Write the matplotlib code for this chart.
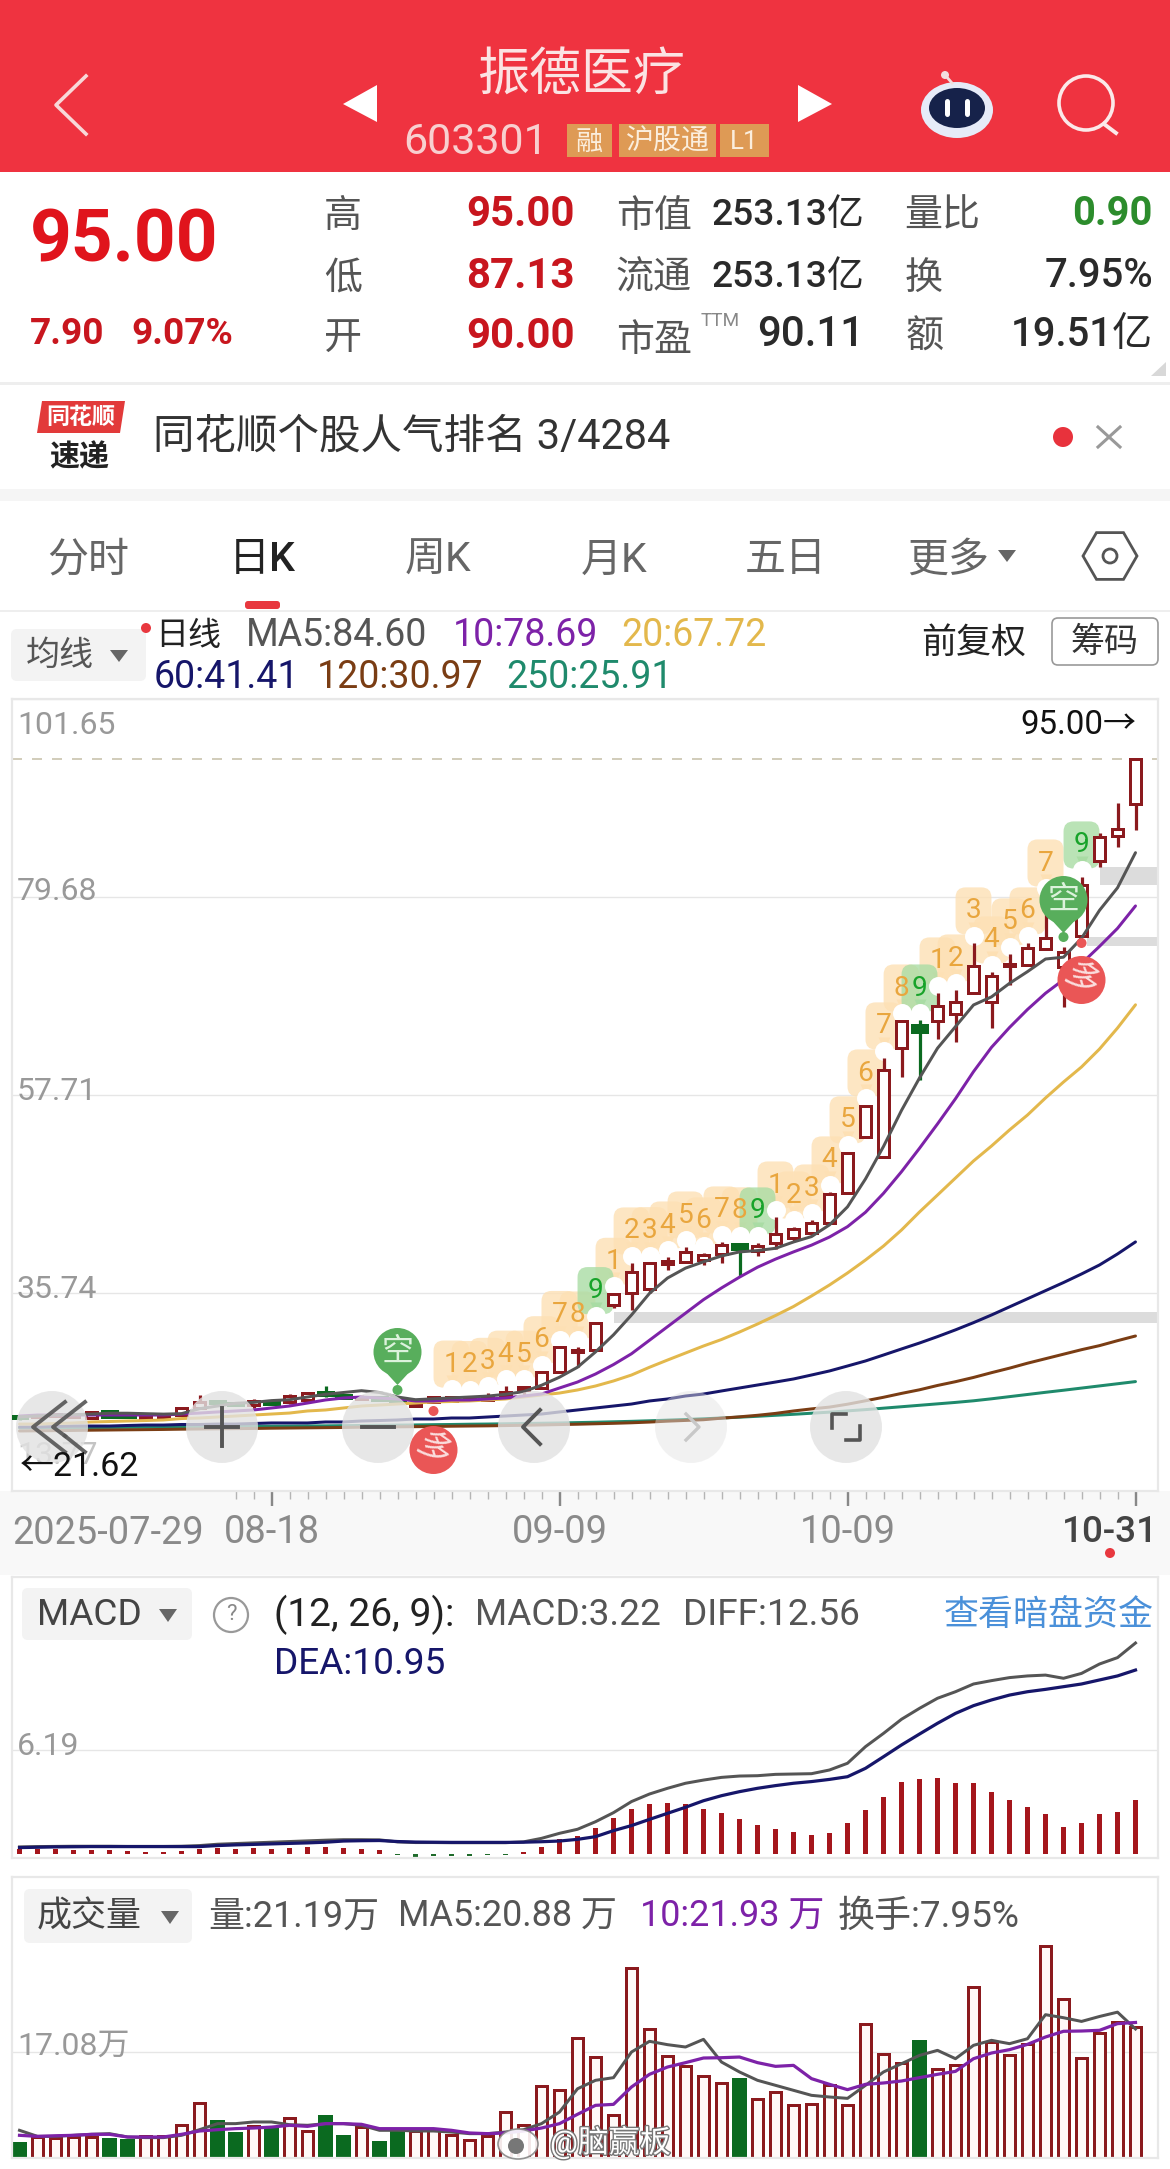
#!/usr/bin/env python3
# K-line screen of 603301: header, quote block, price / MACD / volume panes
import matplotlib
matplotlib.use('Agg')
import matplotlib.pyplot as plt
from matplotlib.patches import Rectangle, FancyBboxPatch, Circle, Polygon, RegularPolygon, Ellipse
from matplotlib.transforms import offset_copy
import matplotlib.patheffects as pe

plt.rcParams['font.family'] = ['Roboto', 'Noto Sans CJK SC', 'DejaVu Sans']

W, H = 1170, 2169

# ── data ──
opens = [22.1, 21.95, 22.1, 22.0, 21.9, 22.6, 22.4, 21.9, 21.9, 22.2, 22.98, 23.8, 23.55, 23.3, 23.75, 23.65,
         23.87, 24.7, 24.45, 24.0, 24.2, 23.9, 23.2, 23.65, 23.8, 23.85, 23.9, 24.4, 24.98, 25.2, 26.97, 29.2,
         29.42, 34.41, 35.74, 36.18, 39.0, 39.18, 39.4, 40.07, 41.18, 40.4, 41.29, 41.84, 42.4, 43.51, 46.84,
         53.05, 50.83, 62.93, 65.48, 65.92, 66.7, 69.03, 68.03, 72.0, 72.13, 73.91, 71.91, 75.35, 83.68, 86.45, 90.0]
closes = [21.85, 22.2, 22.3, 22.25, 22.55, 22.0, 22.0, 22.2, 22.1, 22.98, 23.65, 23.5, 23.3, 23.75, 23.45, 24.31,
          24.64, 24.4, 24.1, 24.2, 23.9, 23.6, 23.45, 24.2, 24.2, 24.2, 24.35, 24.75, 25.3, 26.97, 29.75, 29.42,
          32.41, 35.63, 38.07, 39.07, 39.3, 40.29, 39.96, 41.07, 40.62, 40.95, 42.29, 42.84, 43.51, 46.72, 51.27,
          56.49, 60.48, 65.92, 64.7, 67.58, 68.03, 72.02, 70.91, 72.25, 74.02, 75.13, 73.58, 81.01, 86.34, 87.23, 95.0]
highs = [22.15, 22.3, 22.4, 22.35, 22.6, 22.8, 22.5, 22.3, 22.3, 23.0, 24.4, 23.9, 23.7, 24.0, 23.8, 24.5,
         24.7, 25.4, 24.5, 24.4, 24.3, 24.0, 23.5, 24.3, 24.3, 24.25, 24.6, 25.4, 25.4, 27.0, 29.8, 29.75,
         32.45, 35.7, 39.07, 39.1, 39.73, 40.84, 40.18, 41.4, 41.3, 41.29, 44.17, 43.06, 43.84, 46.95, 51.4,
         56.6, 61.82, 66.03, 66.03, 69.03, 69.36, 74.58, 71.36, 73.36, 74.58, 79.9, 74.13, 81.9, 86.78, 90.11, 95.0]
lows = [21.62, 21.85, 22.0, 21.9, 21.8, 21.9, 21.95, 21.7, 21.75, 22.1, 22.9, 23.2, 23.2, 23.0, 23.4, 23.4,
        23.8, 24.2, 24.05, 23.9, 23.8, 23.5, 23.1, 23.5, 23.7, 23.8, 23.8, 24.0, 24.4, 25.2, 26.9, 27.53,
        29.4, 34.08, 33.85, 35.74, 38.29, 39.07, 38.85, 39.07, 37.63, 39.85, 40.62, 41.51, 42.07, 43.4, 46.7,
        53.0, 50.8, 59.71, 59.37, 63.92, 63.59, 69.0, 65.14, 69.92, 72.1, 73.9, 67.47, 75.3, 83.0, 85.23, 87.13]

ma5 = [22.0, 22.1, 22.2, 22.25, 22.3, 22.4, 22.4, 22.35, 22.3, 22.35, 22.9, 23.2, 23.5, 23.6, 23.8, 23.9, 24.2,
       24.5, 24.7, 24.9, 24.7, 24.2, 23.9, 24.0, 24.1, 24.2, 24.3, 24.5, 24.8, 25.5, 26.4, 27.5, 29.2, 31.1, 33.3,
       35.7, 37.4, 38.5, 39.2, 39.85, 40.3, 40.45, 40.7, 41.4, 42.0, 43.3, 45.3, 48.4, 52.0, 56.0, 59.6, 62.9, 65.3,
       67.7, 68.6, 70.1, 71.4, 72.8, 73.0, 75.1, 78.2, 80.7, 84.6]
ma10 = [22.09, 22.2, 22.2, 22.2, 22.2, 22.2, 22.2, 22.2, 22.2, 22.31, 22.42, 22.54, 22.65, 22.76, 22.98, 23.2,
        23.53, 23.87, 24.09, 24.2, 24.09, 23.98, 23.76, 23.76, 23.87, 23.87, 23.98, 24.09, 24.31, 24.53, 25.2, 25.86,
        26.75, 27.8, 29.0, 30.5, 32.0, 33.5, 35.0, 36.3, 37.5, 38.6, 39.5, 40.3, 41.05, 41.95, 43.1, 44.7,
        46.8, 49.2, 51.8, 54.5, 57.3, 60.3, 63.0, 65.2, 67.2, 69.0, 70.5, 72.3, 74.2, 76.2, 78.69]
ma20 = [21.2, 21.2, 21.26, 21.32, 21.43, 21.48, 21.54, 21.59, 21.65, 21.81, 21.87, 21.98, 22.09, 22.2, 22.31, 22.42,
        22.65, 22.76, 22.98, 23.2, 23.31, 23.42, 23.53, 23.65, 23.7, 23.76, 23.87, 23.98, 24.2, 24.42, 24.64, 24.98,
        25.42, 25.98, 26.64, 27.5, 28.3, 29.08, 29.86, 30.58, 31.41, 32.3, 33.24, 34.24, 35.41, 36.63, 37.96, 39.4,
        40.95, 42.73, 44.73, 46.61, 48.5, 50.39, 52.05, 53.83, 55.49, 57.38, 59.15, 60.82, 62.81, 65.14, 67.72]
ma60 = [20.87, 20.87, 20.93, 20.98, 20.98, 20.98, 21.04, 21.09, 21.09, 21.15, 21.15, 21.2, 21.2, 21.26, 21.32, 21.32,
        21.32, 21.43, 21.43, 21.54, 21.59, 21.65, 21.76, 21.76, 21.87, 21.87, 21.98, 22.09, 22.2, 22.31, 22.54, 22.76,
        22.98, 23.2, 23.42, 23.76, 23.98, 24.31, 24.53, 24.87, 25.2, 25.53, 25.86, 26.2, 26.64, 27.09, 27.64, 28.2,
        28.86, 29.53, 30.19, 30.9, 31.65, 32.45, 33.3, 34.2, 35.1, 36.0, 36.9, 37.85, 38.85, 40.07, 41.41]
ma120 = [20.43, 20.45, 20.47, 20.49, 20.52, 20.54, 20.56, 20.58, 20.6, 20.63, 20.65, 20.67, 20.69, 20.71, 20.74, 20.76,
         20.78, 20.8, 20.82, 20.85, 20.87, 20.89, 20.91, 20.93, 20.96, 20.98, 21.0, 21.03, 21.06, 21.1, 21.14, 21.18,
         21.23, 21.28, 21.34, 21.42, 21.52, 21.6, 21.68, 21.85, 22.0, 22.17, 22.38, 22.65, 22.88, 23.08, 23.4, 23.78,
         24.17, 24.6, 25.0, 25.48, 25.9, 26.37, 26.9, 27.4, 27.95, 28.45, 28.95, 29.45, 29.9, 30.45, 30.97]
ma250 = [20.76, 20.77, 20.79, 20.8, 20.82, 20.83, 20.84, 20.86, 20.87, 20.89, 20.9, 20.92, 20.93, 20.94, 20.96, 20.97,
         20.99, 21.0, 21.02, 21.04, 21.06, 21.08, 21.1, 21.13, 21.15, 21.18, 21.2, 21.23, 21.26, 21.29, 21.32, 21.36,
         21.4, 21.45, 21.5, 21.56, 21.63, 21.7, 21.78, 21.87, 21.96, 22.06, 22.17, 22.28, 22.4, 22.52, 22.66, 22.8,
         22.96, 23.12, 23.28, 23.44, 23.6, 23.78, 24.0, 24.24, 24.48, 24.72, 24.95, 25.19, 25.43, 25.67, 25.91]

price_grid = [13.77, 35.74, 57.71, 79.68, 101.65]
chip_low = [32.41, 74.25, 81.0]
chip_high = [33.63, 75.25, 83.0]
chip_start = [33, 59.3, 60]
last_price = 95.0

td_index = [24, 25, 26, 27, 28, 29, 30, 31, 32, 33, 34, 35, 36, 37, 38, 39, 40, 41, 42, 43, 44, 45, 46, 47, 48, 49, 50,
            51, 52, 53, 54, 55, 56, 57, 59]
td_label = [1, 2, 3, 4, 5, 6, 7, 8, 9, 1, 2, 3, 4, 5, 6, 7, 8, 9, 1, 2, 3, 4, 5, 6, 7, 8, 9, 1, 2, 3, 4, 5, 6, 7, 9]

macd = [.28, .28, .28, .24, .24, .24, .18, .12, .12, .18, .3, .36, .3, .34, .3, .36, .44, .44, .36, .3, .22, -.08,
        -.16, -.1, -.1, -.1, -.06, -.04, .12, .43, .87, 1.07, 1.53, 2.12, 2.66, 2.96, 3.02, 2.96, 2.68, 2.46, 2.08,
        1.73, 1.51, 1.31, 1.13, 1.27, 1.83, 2.62, 3.41, 4.31, 4.44, 4.5, 4.25, 4.2, 3.71, 3.21, 2.82, 2.38, 1.63,
        1.83, 2.38, 2.52, 3.22]
diff = [.42, .44, .45, .46, .46, .46, .45, .45, .45, .46, .5, .58, .62, .66, .7, .74, .78, .82, .85, .85, .84, .72,
        .68, .68, .67, .67, .67, .67, .72, .93, 1.23, 1.47, 1.92, 2.46, 3.12, 3.57, 3.91, 4.21, 4.4, 4.56, 4.64, 4.66,
        4.74, 4.76, 4.78, 5.0, 5.4, 6.39, 7.18, 8.02, 8.67, 9.27, 9.66, 10.12, 10.32, 10.5, 10.6, 10.65, 10.46, 10.75,
        11.31, 11.69, 12.56]
dea = [.38, .4, .42, .43, .44, .44, .44, .44, .44, .44, .44, .5, .54, .57, .6, .63, .66, .7, .77, .79, .8, .74, .71,
       .7, .69, .69, .69, .69, .7, .73, .77, .87, 1.03, 1.39, 1.69, 2.06, 2.42, 2.78, 3.17, 3.47, 3.71, 3.91, 4.07,
       4.21, 4.31, 4.44, 4.6, 5.1, 5.79, 6.49, 7.14, 7.78, 8.37, 8.83, 9.17, 9.46, 9.66, 9.8, 9.96, 10.12, 10.36,
       10.6, 10.95]

volume = [2.59, 3.4, 3.24, 3.4, 3.4, 3.2, 3.0, 3.5, 3.5, 5.29, 8.95, 6.1, 4.2, 5.12, 5.0, 6.47, 4.37, 6.9, 3.67, 5.0,
          2.7, 4.48, 4.37, 4.75, 3.67, 2.97, 3.5, 7.44, 5.29, 11.6, 11.06, 19.42, 16.34, 6.9, 30.8, 20.93, 16.5, 14.89,
          13.2, 12.19, 13.0, 9.55, 10.68, 8.63, 8.79, 11.76, 8.63, 21.68, 16.88, 15.43, 19.15, 14.46, 15.1, 27.67,
          18.77, 16.6, 18.5, 34.36, 25.7, 16.18, 20.2, 22.0, 21.19]
vol_ma5 = [4.48, 3.5, 3.5, 3.67, 3.83, 3.94, 3.4, 3.3, 3.3, 3.67, 4.58, 5.56, 5.56, 5.83, 5.83, 5.39, 5.29, 5.56, 5.56,
           5.29, 4.48, 4.48, 4.37, 4.37, 4.2, 3.94, 3.94, 4.2, 4.58, 5.56, 7.44, 11.2, 12.57, 13.0, 17.15, 18.88, 18.34,
           17.96, 19.2, 15.53, 13.92, 12.57, 11.76, 10.95, 10.14, 9.87, 9.65, 11.76, 13.92, 15.26, 16.6, 17.42, 16.07,
           18.23, 19.04, 18.5, 19.3, 23.19, 22.7, 22.1, 22.9, 23.6, 20.88]
vol_ma10 = [3.67, 3.5, 3.6, 3.67, 3.83, 3.83, 3.4, 3.4, 3.4, 3.83, 4.37, 4.58, 4.75, 4.85, 5.0, 5.29, 5.12, 5.56, 5.56,
            5.45, 4.75, 4.75, 4.75, 4.75, 4.48, 4.05, 3.94, 4.05, 4.37, 4.85, 5.56, 7.07, 8.52, 8.68, 11.49, 13.54, 14.72,
            15.43, 16.18, 16.23, 16.34, 15.43, 14.83, 14.99, 12.84, 11.92, 11.06, 11.92, 12.14, 12.46, 13.0, 13.54, 14.02,
            16.07, 16.99, 17.53, 18.39, 19.58, 20.5, 20.55, 20.66, 21.74, 21.93]

major_ticks = [14, 30, 46, 62]
major_labels = ['08-18', '09-09', '10-09', '']
minor_ticks = [i for i in range(12, 62) if i not in major_ticks]

UP, DOWN = '#8b1a1e', '#0b6a20'
C_MA5, C_MA10, C_MA20, C_MA60, C_MA120, C_MA250 = '#555555', '#7d22a8', '#e3b84c', '#16166a', '#7a3d14', '#1f8a6c'
GREY_TXT, FRAME = '#555555', '#e8e8e8'
RED_NUM = '#c8161e'
DARK_NUM = '#2a2a2a'


def fs(px):
    return px * 0.72


def pane(x0, y0, x1, y1):
    a = fig.add_axes([x0 / W, 1 - y1 / H, (x1 - x0) / W, (y1 - y0) / H], zorder=2)
    a.set_xlim((x0 - 19.5) / 18, (x1 - 19.5) / 18)
    a.set_facecolor('white')
    for s in a.spines.values():
        s.set_color(FRAME)
        s.set_linewidth(1.6)
    a.set_xticks([])
    a.grid(False)
    return a


def label_on(a, txt, val, dy, px=32, color='#999999'):
    a.annotate(txt, xy=(0, val), xycoords=('axes fraction', 'data'), xytext=(fs(5), fs(dy - 3)),
               textcoords='offset points', va='center', ha='left', fontsize=fs(px), color=color, zorder=3)


fig = plt.figure(figsize=(W / 100, H / 100), dpi=100, facecolor='white')

# background layer in pixel coordinates
ui = fig.add_axes([0, 0, 1, 1], zorder=0)
ui.set_xlim(0, W)
ui.set_ylim(H, 0)
ui.axis('off')


def t(x, y, s, px, color=GREY_TXT, ha='left', weight='normal', a=ui, **kw):
    # text sits about 3 px high with va='center', so nudge it down
    return a.text(x, y + 3, s, fontsize=fs(px), color=color, ha=ha, va='center', fontweight=weight, **kw)


def rbox(x0, y0, x1, y1, fc, r=6, ec='none', lw=0, a=ui, z=1):
    a.add_patch(FancyBboxPatch((x0 + r, y0 + r), x1 - x0 - 2 * r, y1 - y0 - 2 * r,
                               boxstyle=f'round,pad={r}', fc=fc, ec=ec, lw=lw, zorder=z))


# ── header ──
ui.add_patch(Rectangle((0, 0), W, 172, fc='#ef3340', ec='none'))
ui.plot([86, 56, 86], [76, 105, 134], color='#f8d8d8', lw=2.6)
ui.add_patch(Polygon([(377, 85), (343, 104), (377, 122)], fc='white'))
ui.add_patch(Polygon([(798, 85), (832, 104), (798, 122)], fc='white'))
t(581, 74, '振德医疗', 52, '#fbe3e3', 'center')
t(403, 139, '603301', 43, '#f8cfcf')
for x0, x1, s, p in [(567, 612, '融', 27), (619, 716, '沪股通', 28), (720, 769, 'L1', 26)]:
    ui.add_patch(Rectangle((x0, 124), x1 - x0, 33, fc='#de9a55', ec='none'))
    t((x0 + x1) / 2, 139, s, p, '#fbeedd', 'center')
# robot icon
ui.add_patch(Ellipse((957, 110), 72, 56, fc='#e6ebf8', ec='none'))
ui.add_patch(Ellipse((957, 108), 56, 40, fc='#16224a', ec='none'))
ui.plot([947, 947], [101, 114], color='white', lw=3.6, solid_capstyle='round')
ui.plot([967, 967], [101, 114], color='white', lw=3.6, solid_capstyle='round')
ui.add_patch(Circle((945, 75), 4, fc='#f3dede', ec='none'))
ui.plot([945, 952], [75, 83], color='#f3dede', lw=2)
# search icon
ui.add_patch(Circle((1086, 103), 27, fc='none', ec='#fbe9e9', lw=2.6))
ui.plot([1104, 1116], [124, 133], color='#fbe9e9', lw=2.8)

# ── quote block ──
t(124, 239, '95.00', 73, '#e0141c', 'center', 'bold')
t(30, 331, '7.90', 37, RED_NUM, weight='bold')
t(131, 331, '9.07%', 37, RED_NUM, weight='bold')
for y, lab, val in [(216, '高', '95.00'), (278, '低', '87.13'), (337, '开', '90.00')]:
    t(343, y - 2, lab, 38, GREY_TXT, 'center')
    t(575, y - 4, val, 42, RED_NUM, 'right', 'bold')
t(616, 213, '市值', 38)
t(864, 213, '253.13亿', 37, DARK_NUM, 'right', 'medium')
t(616, 275, '流通', 38)
t(864, 275, '253.13亿', 37, DARK_NUM, 'right', 'medium')
t(616, 338, '市盈', 38)
t(701, 318, 'TTM', 19, '#888888')
t(864, 332, '90.11', 42, DARK_NUM, 'right', 'medium')
t(904, 213, '量比', 38)
t(1153, 211, '0.90', 40, '#2c8c2c', 'right', 'bold')
t(924, 275, '换', 38, ha='center')
t(1153, 273, '7.95%', 40, DARK_NUM, 'right', 'medium')
t(924, 334, '额', 38, ha='center')
t(1153, 332, '19.51亿', 40, DARK_NUM, 'right', 'medium')
ui.add_patch(Polygon([(1166, 362), (1166, 376), (1151, 376)], fc='#d8d8d8'))
ui.add_patch(Rectangle((0, 382), W, 2.5, fc='#eeeeee', ec='none'))

# ── news strip ──
ui.add_patch(Polygon([(42, 401), (125, 401), (120, 433), (37, 433)], fc='#e23a3a'))
t(81, 414, '同花顺', 23, 'white', 'center', 'bold')
t(79, 455, '速递', 30, '#222222', 'center', 'bold')
t(153, 434, '同花顺个股人气排名 3/4284', 41.5, '#333333')
ui.add_patch(Circle((1063, 437), 10, fc='#e8323c', ec='none'))
ui.plot([1098, 1120], [427, 447], color='#999999', lw=2.2)
ui.plot([1098, 1120], [447, 427], color='#999999', lw=2.2)
ui.add_patch(Rectangle((0, 489), W, 12, fc='#f5f5f5', ec='none'))

# ── tabs ──
for x, s in [(88, '分时'), (438, '周K'), (614, '月K'), (786, '五日'), (948, '更多')]:
    t(x, 557, s, 41, '#666666', 'center')
t(262, 557, '日K', 41, '#222222', 'center', 'medium')
ui.add_patch(Polygon([(998, 550), (1016, 550), (1007, 562)], fc='#666666'))
ui.add_patch(RegularPolygon((1110, 556), 6, radius=27, orientation=0.5236, fc='none', ec='#555555', lw=2))
ui.add_patch(Circle((1110, 556), 7, fc='none', ec='#555555', lw=2))
rbox(245, 601, 280, 609, '#e8383f', r=3)
ui.add_patch(Rectangle((0, 610), W, 2, fc='#eeeeee', ec='none'))

# ── legend row ──
rbox(11, 629, 146, 681, '#f3f3f3')
t(60, 653, '均线', 34, '#555555', 'center')
ui.add_patch(Polygon([(110, 650), (128, 650), (119, 662)], fc='#666666', zorder=3))
ui.add_patch(Circle((146, 628), 5, fc='#e8383f', ec='none', zorder=3))
t(155, 633, '日线', 33, '#222222')
t(246, 633, 'MA5:84.60', 37.5, C_MA5)
t(453, 633, '10:78.69', 37.5, C_MA10)
t(621, 633, '20:67.72', 37.5, C_MA20)
t(154, 674, '60:41.41', 37.5, C_MA60)
t(317, 674, '120:30.97', 37.5, C_MA120)
t(506, 674, '250:25.91', 37.5, C_MA250)
t(974, 640, '前复权', 35, '#222222', 'center')
rbox(1052, 618, 1158, 665, 'white', ec='#999999', lw=1.2)
t(1105, 640, '筹码', 34, '#333333', 'center', zorder=3)

# date strip background
ui.add_patch(Rectangle((0, 1491), W, 84, fc='#f8f8f8', ec='none'))

# ── price pane ──
ax = pane(12, 699, 1158, 1491)
ax.set_ylim(price_grid[0], price_grid[-1])
ax.set_yticks(price_grid)
ax.grid(axis='y', color='#e6e6e6', lw=1.0)
ax.set_axisbelow(True)
ax.tick_params(axis='y', length=0, labelleft=False)
idx = list(range(len(closes)))

label_on(ax, '101.65', 101.65, -23)
label_on(ax, '79.68', 79.68, 8)
label_on(ax, '57.71', 57.71, 7)
label_on(ax, '35.74', 35.74, 7)
label_on(ax, '13.77', 13.77, 39, color='#c4c4c4')

ax.axhline(last_price, color='#c9c4ae', lw=1.2, dashes=(6, 6), zorder=1)
for lo, hi, st in zip(chip_low, chip_high, chip_start):
    ax.fill_between([st, 63.3], lo, hi, color='#dcdcdc', lw=0, zorder=1)

# TD count tags sit 32 px above the high of their candle: boxes first, digits over all of them
tag_up = offset_copy(ax.transData, fig=fig, x=0, y=fs(15), units='points')
halo = offset_copy(ax.transData, fig=fig, x=0, y=fs(7), units='points')
for i, n in zip(td_index, td_label):
    nine = n == 9
    fc = '#a9dca4' if nine else '#fde0b4'
    col = '#18a32a' if nine else '#e9a63e'
    ax.annotate(str(n), xy=(i, highs[i]), xytext=(0, fs(32)), textcoords='offset points', ha='center', va='center',
                fontsize=fs(28), color='none', zorder=2.2 if nine else 2,
                bbox=dict(boxstyle='round,pad=0.36', fc=fc, ec='none', alpha=0.8))
    ax.plot([i], [highs[i]], marker='v', ms=fs(12), color=fc, mec='none', transform=tag_up, zorder=2)
    ax.annotate(str(n), xy=(i, highs[i]), xytext=(0, fs(32)), textcoords='offset points', ha='center', va='center',
                fontsize=fs(28), color=col, zorder=3)
for i in td_index:
    ax.plot([i], [highs[i]], marker='o', ms=fs(19), color='white', mec='none', transform=halo, zorder=2.5)

# candles
ax.vlines(idx, lows, highs, colors=[UP if c >= o else DOWN for o, c in zip(opens, closes)], lw=fs(3.2), zorder=4)
for i, (o, c) in enumerate(zip(opens, closes)):
    up = c >= o
    ax.bar(i, max(abs(c - o), 0.05), bottom=min(o, c), width=0.66 if up else 0.78, fc='white' if up else DOWN,
           ec=UP if up else DOWN, lw=fs(3), zorder=5)

for ys, col in [(ma250, C_MA250), (ma120, C_MA120), (ma60, C_MA60), (ma20, C_MA20), (ma10, C_MA10), (ma5, C_MA5)]:
    ax.plot(idx, ys, color=col, lw=fs(3), zorder=6, solid_capstyle='round')

ax.set_xticks(major_ticks, major_labels)
ax.set_xticks(minor_ticks, minor=True)
ax.tick_params(axis='x', which='major', length=fs(15), width=fs(2.4), color='#888888', pad=fs(8),
               labelsize=fs(38), labelcolor='#8a8a8a')
ax.tick_params(axis='x', which='minor', length=fs(8), width=fs(1.4), color='#b5b5b5')
t(12, 1530, '2025-07-29', 38, '#8a8a8a')
t(1110, 1530, '10-31', 37, '#444444', 'center', 'medium')
ui.add_patch(Circle((1110, 1553), 5, fc='#e8383f', ec='none'))

# ── MACD pane ──
am = pane(12, 1577, 1158, 1858)
am.set_ylim(-0.24, 16.49)
am.set_yticks([6.19])
am.grid(axis='y', color='#e6e6e6', lw=1.0)
am.set_axisbelow(True)
am.tick_params(axis='y', length=0, labelleft=False)
label_on(am, '6.19', 6.19, 7, px=32)
am.bar(idx, macd, width=0.25, color=['#a5161c' if v >= 0 else '#1f6b2b' for v in macd], zorder=2)
am.plot(idx, diff, color=C_MA5, lw=fs(3), zorder=3)
am.plot(idx, dea, color=C_MA60, lw=fs(3.2), zorder=4)

# ── volume pane ──
av = pane(12, 1877, 1158, 2158)
av.set_ylim(0, 45.47)
av.set_yticks([17.08])
av.grid(axis='y', color='#e6e6e6', lw=1.0)
av.set_axisbelow(True)
av.tick_params(axis='y', length=0, labelleft=False)
label_on(av, '17.08万', 17.08, 9, px=32)
for i, (o, c, v) in enumerate(zip(opens, closes, volume)):
    if c >= o:
        av.bar(i, v, width=0.66, fc='#fff9f8', ec=UP, lw=fs(3), zorder=2)
    else:
        av.bar(i, v, width=0.84, fc=DOWN, ec='none', zorder=2)
av.plot(idx, vol_ma5, color=C_MA5, lw=fs(3), zorder=3)
av.plot(idx, vol_ma10, color=C_MA10, lw=fs(3.2), zorder=4)

# ── overlay: pane headers, buttons, signals ──
top = fig.add_axes([0, 0, 1, 1], zorder=5)
top.set_xlim(0, W)
top.set_ylim(H, 0)
top.axis('off')
top.patch.set_alpha(0)

t(1136, 722, '95.00→', 33, '#111111', 'right', a=top)
t(20, 1464, '←21.62', 34, '#111111', a=top)

BTN = '#555555'
for x, alpha in [(52, .8), (222, .8), (378, .8), (534, .8), (691, .45), (846, .8)]:
    top.add_patch(Circle((x, 1427), 36, fc='#e2e2e2', ec='none', alpha=alpha, zorder=1))
top.plot([65, 33, 65], [1402, 1427, 1452], color=BTN, lw=2.8, alpha=.9, zorder=2)
top.plot([85, 53, 65], [1402, 1427, 1436], color=BTN, lw=2.8, alpha=.9, zorder=2)
top.plot([65, 85], [1436, 1452], color=BTN, lw=2.8, alpha=.9, zorder=2)
top.plot([206, 238], [1427, 1427], color=BTN, lw=2.8, zorder=2)
top.plot([222, 222], [1408, 1446], color=BTN, lw=2.8, zorder=2)
top.plot([362, 394], [1427, 1427], color=BTN, lw=2.8, zorder=2)
top.plot([540, 523, 540], [1410, 1427, 1444], color=BTN, lw=2.8, zorder=2)
top.plot([686, 699, 686], [1414, 1427, 1440], color='#c8c8c8', lw=2.4, zorder=2)
top.plot([832, 832, 846], [1428, 1414, 1414], color=BTN, lw=2.6, zorder=2)
top.plot([860, 860, 846], [1426, 1440, 1440], color=BTN, lw=2.6, zorder=2)


def cx(i):
    return 19.5 + 18 * i


# short / long signal pins: (candle index, head y, dot y)
for i, yc, yd in [(21, 1352, 1390), (58, 900, 937)]:
    top.add_patch(Circle((cx(i), yc), 24, fc='#58ae5c', ec='none', zorder=3))
    top.add_patch(Polygon([(cx(i) - 11, yc + 21), (cx(i) + 11, yc + 21), (cx(i), yc + 33)], fc='#58ae5c', zorder=3))
    top.add_patch(Circle((cx(i), yd), 5, fc='#58ae5c', ec='none', zorder=3))
    t(cx(i), yc - 3, '空', 32, '#dcf2dc', 'center', a=top, zorder=4)
for i, yc, yd in [(23, 1450, 1411), (59, 980, 943)]:
    top.add_patch(Circle((cx(i), yc), 24, fc='#ea5656', ec='none', zorder=3))
    top.add_patch(Circle((cx(i), yd), 5, fc='#ea5656', ec='none', zorder=3))
    t(cx(i), yc - 3, '多', 34, '#fbdede', 'center', a=top, zorder=4, rotation=-35)

# MACD header
rbox(22, 1588, 192, 1640, '#f3f3f3', a=top)
t(37, 1612, 'MACD', 37, '#444444', a=top, zorder=3)
top.add_patch(Polygon([(159, 1609), (177, 1609), (168, 1622)], fc='#666666', zorder=3))
top.add_patch(Circle((231, 1615), 17, fc='white', ec='#999999', lw=1.6, zorder=3))
t(231, 1612, '?', 22, '#888888', 'center', a=top, zorder=4)
t(274, 1612, '(12, 26, 9):', 39, '#222222', a=top)
t(475, 1612, 'MACD:3.22', 37, GREY_TXT, a=top)
t(683, 1612, 'DIFF:12.56', 37, GREY_TXT, a=top)
t(944, 1612, '查看暗盘资金', 35, '#4a90d9', a=top)
t(274, 1661, 'DEA:10.95', 37, C_MA60, a=top)

# volume header
rbox(24, 1889, 192, 1943, '#f3f3f3', a=top)
t(37, 1914, '成交量', 35, '#444444', a=top, zorder=3)
top.add_patch(Polygon([(161, 1911), (179, 1911), (170, 1924)], fc='#666666', zorder=3))
t(208, 1914, '量:21.19万', 36, GREY_TXT, a=top)
t(398, 1914, 'MA5:20.88 万', 36, GREY_TXT, a=top)
t(640, 1914, '10:21.93 万', 36, C_MA10, a=top)
t(838, 1914, '换手:7.95%', 37, GREY_TXT, a=top)

# watermark
top.add_patch(Ellipse((518, 2144), 40, 30, fc='white', ec='#888888', lw=1.2, alpha=.9, zorder=6))
top.add_patch(Circle((516, 2146), 8, fc='#777777', ec='none', zorder=7))
t(550, 2139, '@脑赢板', 31, 'white', a=top, zorder=7,
  path_effects=[pe.withStroke(linewidth=2, foreground='#777777')])

fig.savefig('out.png', dpi=100)
